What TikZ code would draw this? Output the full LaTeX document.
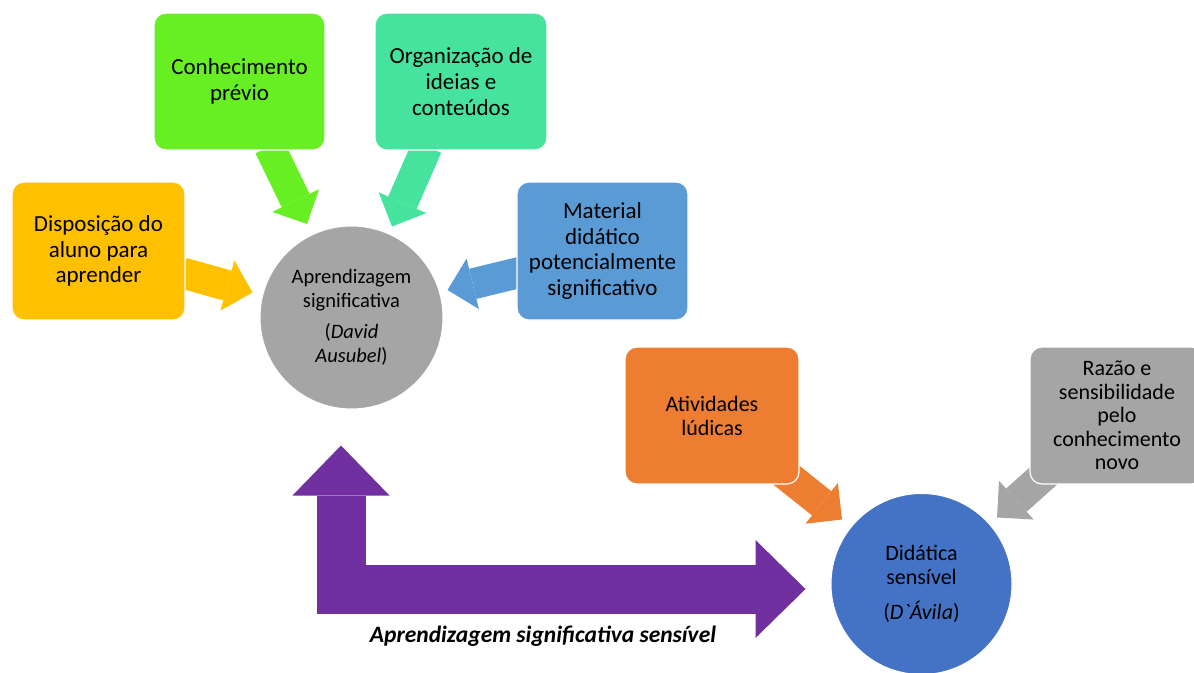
\documentclass[tikz,border=0pt]{standalone}
\usepackage{fontspec}
\setmainfont{Carlito}
\usetikzlibrary{arrows.meta,calc,backgrounds}
\definecolor{cYellow}{HTML}{FFC000}
\definecolor{cGreen}{HTML}{68EF24}
\definecolor{cTeal}{HTML}{45E39E}
\definecolor{cBlue}{HTML}{5B9BD5}
\definecolor{cOrange}{HTML}{ED7D31}
\definecolor{cGray}{HTML}{A5A5A5}
\definecolor{cDBlue}{HTML}{4472C4}
\definecolor{cPurple}{HTML}{7030A0}
\tikzset{
  box/.style={rectangle, rounded corners=12pt, draw=white, line width=1.2pt,
    inner sep=0pt, align=center, text=black, font=\fontsize{23}{25.8}\selectfont},
  circ/.style={circle, draw=white, line width=1pt, inner sep=0pt, align=center,
    text=black, font=\fontsize{20.5}{24}\selectfont},
  blk/.style={line width=31pt, -{Triangle[width=52pt,length=26pt,line width=0pt]}},
  bigblk/.style={line width=49pt, line join=miter,
    {Triangle[width=97pt,length=50pt,line width=0pt]}-{Triangle[width=98pt,length=50pt,line width=0pt]}},
}
\begin{document}
\begin{tikzpicture}[x=1pt,y=-1pt]
\useasboundingbox (0,0) rectangle (1194,672);
\clip (0,0) rectangle (1194,672);

% boxes
\node[box, fill=cYellow, minimum width=173pt, minimum height=138pt] (disp) at (98.5,251) {Disposição do\\aluno para\\aprender};
\node[box, fill=cGreen, minimum width=171pt, minimum height=137pt] (conh) at (239.5,81.5) {Conhecimento\\prévio};
\node[box, fill=cTeal, minimum width=172pt, minimum height=137pt] (org) at (461,81.5) {Organização de\\ideias e\\conteúdos};
\node[box, fill=cBlue, minimum width=171pt, minimum height=138pt] (mat) at (602.5,251) {Material\\didático\\potencialmente\\significativo};
\node[box, fill=cOrange, minimum width=174pt, minimum height=137pt, font=\fontsize{22}{24}\selectfont] (ativ) at (712,415.5) {Atividades\\lúdicas};
\node[box, fill=cGray, minimum width=174pt, minimum height=137pt, font=\fontsize{22}{23.5}\selectfont] (raz) at (1117,415.5) {Razão e\\sensibilidade\\pelo\\conhecimento\\novo};

% circles
\node[circ, fill=cGray, minimum size=183pt] (apr) at (351.5,317.5) {Aprendizagem\\significativa\\[7pt](\textit{David}\\\textit{Ausubel})};
\node[circ, fill=cDBlue, minimum size=181pt, font=\fontsize{22}{24}\selectfont] (did) at (921.5,584) {Didática\\sensível\\[11pt](\textit{D\textasciigrave Ávila})};

% label
\node[font=\bfseries\itshape\fontsize{23.5}{26}\selectfont, text=black] (lab) at (543,636) {Aprendizagem significativa sensível};

% connectors
\coordinate (pu1) at ($(apr.south)+(-10.5,36)$);
\coordinate (pu2) at ($(did.west)+(-25,5)$);
\begin{scope}[on background layer]
\draw[blk, cYellow] ($(disp.east)+(-3,22)$) -- ($(apr.west)+(-7,-25)$);
\draw[blk, cGreen] ($(conh.south)+(30,-4)$) -- ($(apr.north)+(-44.5,-1.5)$);
\draw[blk, cTeal] ($(org.south)+(-34,-4)$) -- ($(apr.north)+(40.5,1)$);
\draw[blk, cBlue] ($(mat.west)+(5,21)$) -- ($(apr.east)+(4,-27.5)$);
\draw[blk, cOrange] ($(ativ.south east)+(-19,-14)$) -- ($(did.north)+(-79.5,26.5)$);
\draw[blk, cGray] ($(raz.south west)+(20,-14)$) -- ($(did.north)+(75.5,24.5)$);
\draw[bigblk, cPurple] (pu1) |- (pu2);
\end{scope}
\end{tikzpicture}
\end{document}
